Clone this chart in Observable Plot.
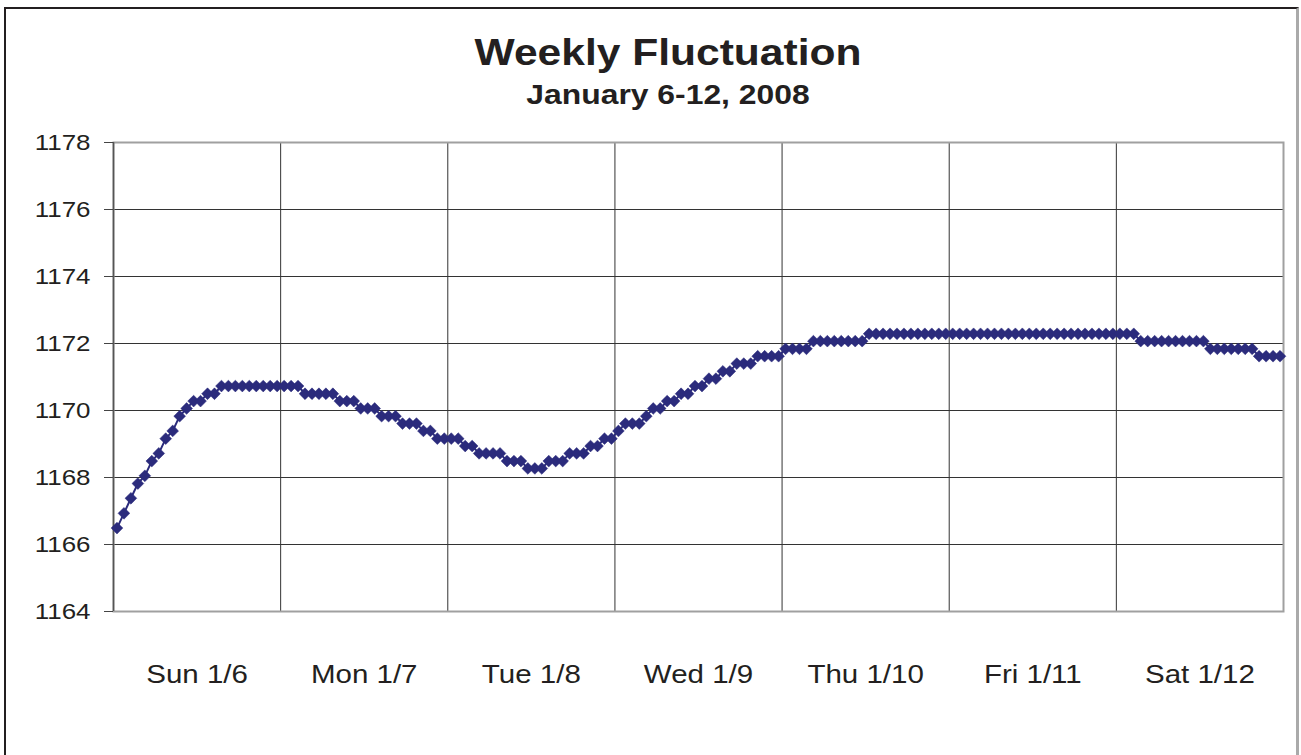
<!DOCTYPE html>
<html>
<head>
<meta charset="utf-8">
<script src="https://cdn.jsdelivr.net/npm/d3@7"></script>
<script src="https://cdn.jsdelivr.net/npm/@observablehq/plot@0.6"></script>
<style>
  html, body { margin: 0; padding: 0; background: #fff; }
  #page { position: relative; width: 1301px; height: 755px; overflow: hidden;
          font-family: "Liberation Sans", Arial, Helvetica, sans-serif; color: #231f20; }
  #frame { position: absolute; left: 4px; top: 7px; width: 1295px; height: 820px; box-sizing: border-box;
           border-left: 2px solid #231f20; border-top: 2px solid #231f20; border-right: 3px solid #aaa; }
  .ttl { position: absolute; left: 667.5px; white-space: nowrap; font-weight: bold;
         transform-origin: center; }
  #title { top: 34px; font-size: 37px; line-height: 37px; transform: translate(-50%, 0) scaleX(1.15); }
  #subtitle { top: 82px; font-size: 27px; line-height: 27px; transform: translate(-50%, 0) scaleX(1.18); }
  #chart { position: absolute; left: 0; top: 110px; }
</style>
</head>
<body>
<div id="page">
  <div id="frame"></div>
  <div id="title" class="ttl">Weekly Fluctuation</div>
  <div id="subtitle" class="ttl">January 6-12, 2008</div>
  <div id="chart"></div>
</div>
<script>
// Hourly readings, one array of 24 values per day
const sun = [1166.49, 1166.93, 1167.38, 1167.82, 1168.05, 1168.49, 1168.72, 1169.16,
             1169.39, 1169.83, 1170.06, 1170.28, 1170.28, 1170.50, 1170.50, 1170.73,
             1170.73, 1170.73, 1170.73, 1170.73, 1170.73, 1170.73, 1170.73, 1170.73];
const mon = [1170.73, 1170.73, 1170.73, 1170.50, 1170.50, 1170.50, 1170.50, 1170.50,
             1170.28, 1170.28, 1170.28, 1170.06, 1170.06, 1170.06, 1169.83, 1169.83,
             1169.83, 1169.61, 1169.61, 1169.61, 1169.39, 1169.39, 1169.16, 1169.16];
const tue = [1169.16, 1169.16, 1168.94, 1168.94, 1168.72, 1168.72, 1168.72, 1168.72,
             1168.49, 1168.49, 1168.49, 1168.27, 1168.27, 1168.27, 1168.49, 1168.49,
             1168.49, 1168.72, 1168.72, 1168.72, 1168.94, 1168.94, 1169.16, 1169.16];
const wed = [1169.39, 1169.61, 1169.61, 1169.61, 1169.83, 1170.06, 1170.06, 1170.28,
             1170.28, 1170.50, 1170.50, 1170.73, 1170.73, 1170.95, 1170.95, 1171.17,
             1171.17, 1171.40, 1171.40, 1171.40, 1171.62, 1171.62, 1171.62, 1171.62];
const thu = [1171.84, 1171.84, 1171.84, 1171.84, 1172.07, 1172.07, 1172.07, 1172.07,
             1172.07, 1172.07, 1172.07, 1172.07, 1172.29, 1172.29, 1172.29, 1172.29,
             1172.29, 1172.29, 1172.29, 1172.29, 1172.29, 1172.29, 1172.29, 1172.29];
const fri = [1172.29, 1172.29, 1172.29, 1172.29, 1172.29, 1172.29, 1172.29, 1172.29,
             1172.29, 1172.29, 1172.29, 1172.29, 1172.29, 1172.29, 1172.29, 1172.29,
             1172.29, 1172.29, 1172.29, 1172.29, 1172.29, 1172.29, 1172.29, 1172.29];
const sat = [1172.29, 1172.29, 1172.29, 1172.07, 1172.07, 1172.07, 1172.07, 1172.07,
             1172.07, 1172.07, 1172.07, 1172.07, 1172.07, 1171.84, 1171.84, 1171.84,
             1171.84, 1171.84, 1171.84, 1171.84, 1171.62, 1171.62, 1171.62, 1171.62];

const dayLabels = ["Sun 1/6", "Mon 1/7", "Tue 1/8", "Wed 1/9", "Thu 1/10", "Fri 1/11", "Sat 1/12"];
const yTicks = [1164, 1166, 1168, 1170, 1172, 1174, 1176, 1178];

const days = [sun, mon, tue, wed, thu, fri, sat];
const hoursPerDay = 24;
const rows = days.flatMap((arr, d) => arr.map((v, h) => ({hour: d * hoursPerDay + h + 0.5, value: v})));
const totalHours = days.length * hoursPerDay;
const dayBounds = d3.range(0, totalHours + 1, hoursPerDay);
const dayCenters = d3.range(hoursPerDay / 2, totalHours, hoursPerDay);

const navy = "#2b2b7c";

const svg = Plot.plot({
  width: 1301,
  height: 645,
  marginLeft: 113,
  marginRight: 18,
  marginTop: 32,
  marginBottom: 144,
  x: {domain: [0, totalHours], axis: null, label: null},
  y: {domain: [yTicks[0], yTicks[yTicks.length - 1]], axis: null, label: null},
  style: {fontFamily: '"Liberation Sans", Arial, Helvetica, sans-serif', background: "transparent", overflow: "visible", color: "#231f20"},
  marks: [
    Plot.gridX(dayBounds, {stroke: "#333", strokeOpacity: 1, strokeWidth: 1}),
    Plot.gridY(yTicks, {stroke: "#333", strokeOpacity: 1, strokeWidth: 1}),
    Plot.frame({stroke: "#a0a0a0", strokeWidth: 2}),
    Plot.ruleX([0], {stroke: "#555", strokeWidth: 1.5}),
    Plot.axisY(yTicks, {tickSize: 9, tickPadding: 14, fontSize: 22, stroke: "#444", fill: "#231f20",
                        label: null, tickFormat: d3.format("d")}),
    Plot.axisX(dayCenters, {tickSize: 0, tickPadding: 54, fontSize: 25, fill: "#231f20",
                            label: null, tickFormat: d => dayLabels[Math.floor(d / hoursPerDay)]}),
    Plot.line(rows, {x: "hour", y: "value", stroke: navy, strokeWidth: 2}),
    Plot.dot(rows, {x: "hour", y: "value", symbol: "diamond2", r: 5.3, fill: navy, stroke: navy, strokeWidth: 0.5})
  ]
});

document.getElementById("chart").appendChild(svg);

// Widen tick label glyphs (reference type is horizontally stretched) without moving them
svg.querySelectorAll('g[aria-label="x-axis tick label"] text, g[aria-label="y-axis tick label"] text').forEach(t => {
  const w = t.getComputedTextLength();
  if (w > 0) {
    t.setAttribute("textLength", (w * 1.18).toFixed(1));
    t.setAttribute("lengthAdjust", "spacingAndGlyphs");
  }
});
</script>
</body>
</html>
